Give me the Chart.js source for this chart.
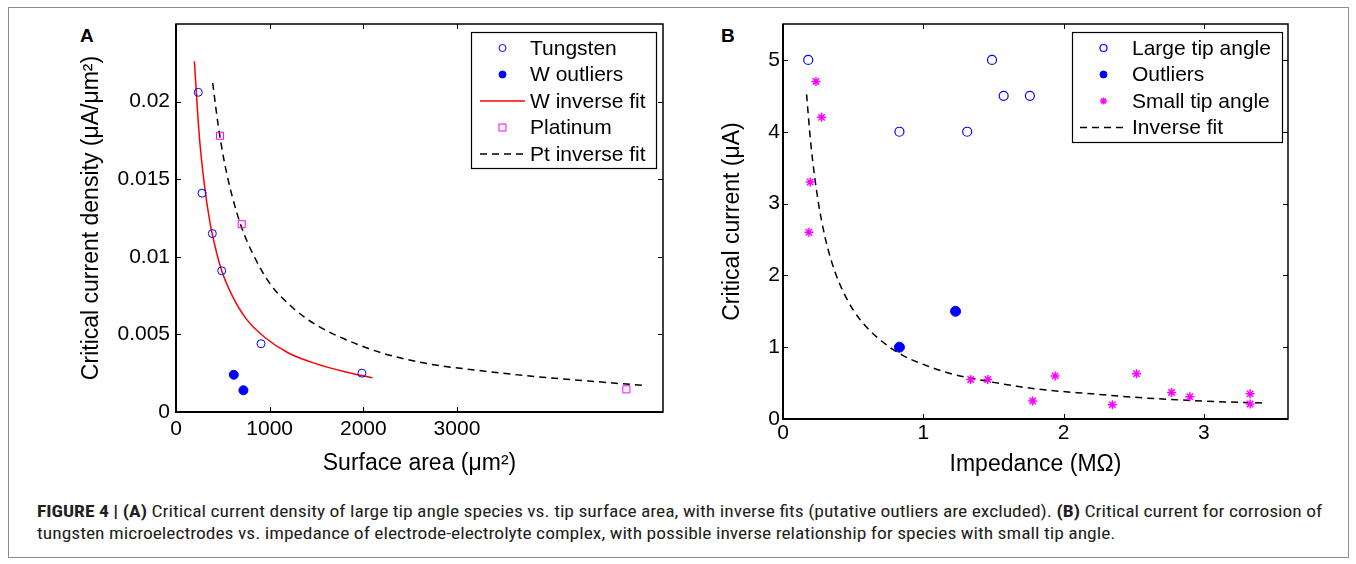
<!DOCTYPE html>
<html>
<head>
<title>Figure 4 - Critical current of tungsten microelectrodes</title>
<script src="https://cdn.jsdelivr.net/npm/chart.js"></script>
<style>
    body { margin: 0; background: #fff; font-family: "Liberation Sans", Arial, sans-serif; }
    #figure { position: relative; width: 1356px; height: 564px; overflow: hidden; }
    .frame { position: absolute; left: 8px; top: 7px; width: 1339px; height: 549px; border: 1px solid #8c8c8c; }
    .panel-letter { position: absolute; font-weight: bold; font-size: 19px; line-height: 20px; }
    canvas { position: absolute; top: 0; }
    .caption-line {
        position: absolute; left: 37px; white-space: nowrap; color: #231f20;
        font-family: "Liberation Sans Narrow", "Roboto Condensed", "Liberation Sans", sans-serif;
        font-size: 17px; line-height: 22px; transform-origin: 0 50%;
    }
</style>
</head>
<body>
<div id="figure">
    <div class="frame"></div>
    <div class="panel-letter" style="left:80px; top:26px;">A</div>
    <div class="panel-letter" style="left:721px; top:26px;">B</div>
    <canvas id="chartA" width="690" height="480" style="left:0;"></canvas>
    <canvas id="chartB" width="666" height="480" style="left:690px;"></canvas>
    <div class="caption-line" id="cap1" style="top:500px;"><b>FIGURE 4 | (A)</b> Critical current density of large tip angle species vs. tip surface area, with inverse fits (putative outliers are excluded). <b>(B)</b> Critical current for corrosion of</div>
    <div class="caption-line" id="cap2" style="top:522px;">tungsten microelectrodes vs. impedance of electrode-electrolyte complex, with possible inverse relationship for species with small tip angle.</div>
</div>

<script>
// ---- panel A : current density vs surface area ----
const tungstenArea = [238, 278, 388, 488, 908, 1985];
const tungstenDensity = [0.0206, 0.0141, 0.0115, 0.0091, 0.0044, 0.0025];
const wOutlierArea = [617, 720];
const wOutlierDensity = [0.0024, 0.0014];
const wFitArea = [196, 250, 300, 363, 420, 488, 600, 750, 950, 1200, 1500, 1800, 2098];
const wFitDensity = [0.0226, 0.0177, 0.0148, 0.0122, 0.0106, 0.0091, 0.0075, 0.0060, 0.0048, 0.0038, 0.0031, 0.0026, 0.0022];
const platinumArea = [470, 702, 4809];
const platinumDensity = [0.0178, 0.0121, 0.00146];
const ptFitArea = [392, 450, 520, 600, 700, 820, 1000, 1250, 1500, 1800, 2200, 2700, 3200, 3800, 4400, 5010];
const ptFitDensity = [0.0212, 0.0185, 0.0160, 0.0139, 0.0119, 0.0102, 0.0083, 0.0067, 0.0056, 0.0047, 0.0038, 0.0031, 0.0027, 0.0023, 0.0020, 0.0017];
const xTicksA = [0, 1000, 2000, 3000];
const yTicksA = [0, 0.005, 0.01, 0.015, 0.02];

// ---- panel B : critical current vs impedance ----
const largeTipImpedance = [0.18, 1.49, 1.573, 1.76, 0.83, 1.313];
const largeTipCurrent = [5, 5, 4.5, 4.5, 4, 4];
const outlierImpedance = [0.83, 1.23];
const outlierCurrent = [1.0, 1.5];
const smallTipImpedance = [0.235, 0.275, 0.194, 0.185, 1.338, 1.46, 1.78, 1.94, 2.348, 2.52, 2.77, 2.9, 3.33, 3.33];
const smallTipCurrent = [4.7, 4.2, 3.3, 2.6, 0.55, 0.55, 0.25, 0.6, 0.2, 0.63, 0.37, 0.31, 0.35, 0.21];
const fitImpedance = [0.168, 0.2, 0.25, 0.3, 0.35, 0.4, 0.5, 0.6, 0.7, 0.85, 1.0, 1.2, 1.5, 1.8, 2.2, 2.6, 3.0, 3.45];
const fitCurrent = [4.52, 3.8, 3.04, 2.53, 2.17, 1.9, 1.52, 1.27, 1.09, 0.89, 0.76, 0.63, 0.51, 0.42, 0.35, 0.29, 0.25, 0.22];
const xTicksB = [0, 1, 2, 3];
const yTicksB = [0, 1, 2, 3, 4, 5];

const FONT = '"Liberation Sans", Arial, sans-serif';
Chart.defaults.font.family = FONT;
Chart.defaults.font.size = 21;
Chart.defaults.color = '#000';

function pts(xs, ys) {
    return xs.map((x, i) => ({ x: x, y: ys[i] }));
}

function drawMarker(ctx, style, x, y, r, ds) {
    ctx.save();
    ctx.strokeStyle = ds.borderColor;
    ctx.lineWidth = ds.borderWidth || 1;
    ctx.fillStyle = ds.backgroundColor;
    ctx.beginPath();
    if (style === 'rect') {
        ctx.rect(x - r, y - r, 2 * r, 2 * r);
    } else if (style === 'star') {
        for (let k = 0; k < 4; k++) {
            const a = k * Math.PI / 4;
            ctx.moveTo(x - r * Math.cos(a), y - r * Math.sin(a));
            ctx.lineTo(x + r * Math.cos(a), y + r * Math.sin(a));
        }
    } else {
        ctx.arc(x, y, r, 0, Math.PI * 2);
        ctx.fill();
    }
    ctx.stroke();
    ctx.restore();
}

// MATLAB-like boxed axes with inward ticks, plus the boxed legend inside the plot
const matlabAxes = {
    id: 'matlabAxes',
    afterDatasetsDraw(chart) {
        const { ctx, chartArea: a, scales: { x, y } } = chart;
        const len = 5;
        ctx.save();
        ctx.strokeStyle = '#000';
        ctx.lineWidth = 1;
        ctx.beginPath();
        x.ticks.forEach(t => {
            const px = Math.round(x.getPixelForValue(t.value)) + 0.5;
            ctx.moveTo(px, a.bottom); ctx.lineTo(px, a.bottom - len);
            ctx.moveTo(px, a.top); ctx.lineTo(px, a.top + len);
        });
        y.ticks.forEach(t => {
            const py = Math.round(y.getPixelForValue(t.value)) + 0.5;
            ctx.moveTo(a.left, py); ctx.lineTo(a.left + len, py);
            ctx.moveTo(a.right, py); ctx.lineTo(a.right - len, py);
        });
        ctx.stroke();
        ctx.lineWidth = 1.5;
        ctx.strokeRect(a.left, a.top, a.right - a.left, a.bottom - a.top);
        ctx.lineWidth = 2;
        ctx.beginPath();
        ctx.moveTo(a.left, a.top); ctx.lineTo(a.left, a.bottom); ctx.lineTo(a.right, a.bottom);
        ctx.stroke();
        ctx.restore();
    },
    afterDraw(chart, args, opts) {
        const lg = opts.legend;
        if (!lg) return;
        const ctx = chart.ctx;
        ctx.save();
        ctx.fillStyle = '#fff';
        ctx.fillRect(lg.x, lg.y, lg.w, lg.h);
        ctx.strokeStyle = '#000';
        ctx.lineWidth = 1.2;
        ctx.strokeRect(lg.x + 0.5, lg.y + 0.5, lg.w, lg.h);
        ctx.font = '21px ' + FONT;
        ctx.textBaseline = 'middle';
        ctx.textAlign = 'left';
        chart.data.datasets.forEach((ds, i) => {
            const yy = lg.y + lg.first + i * lg.step;
            if (ds.showLine) {
                ctx.save();
                ctx.strokeStyle = ds.borderColor;
                ctx.lineWidth = ds.borderWidth;
                ctx.setLineDash(ds.borderDash || []);
                ctx.beginPath();
                ctx.moveTo(lg.lineX0, yy);
                ctx.lineTo(lg.lineX1, yy);
                ctx.stroke();
                ctx.restore();
            } else {
                drawMarker(ctx, ds.pointStyle, (lg.lineX0 + lg.lineX1) / 2, yy, lg.markR, ds);
            }
            ctx.fillStyle = '#000';
            ctx.fillText(ds.label, lg.textX, yy + 1);
        });
        ctx.restore();
    }
};

function noPad(s) {
    s.paddingTop = 0; s.paddingBottom = 0; s.paddingLeft = 0; s.paddingRight = 0;
}

function makeScales(cfg) {
    return {
        x: {
            type: 'linear', min: cfg.xMin, max: cfg.xMax,
            afterBuildTicks: s => { s.ticks = cfg.xTicks.map(v => ({ value: v })); },
            afterFit: s => { s.height = cfg.xHeight; noPad(s); },
            grid: { display: false, drawTicks: false },
            border: { display: false },
            ticks: { padding: cfg.xTickPad, autoSkip: false, maxRotation: 0, callback: v => String(v) },
            title: { display: true, text: cfg.xTitle, font: { size: 23 }, padding: { top: 0, bottom: cfg.xTitlePad } }
        },
        y: {
            type: 'linear', min: cfg.yMin, max: cfg.yMax,
            afterBuildTicks: s => { s.ticks = cfg.yTicks.map(v => ({ value: v })); },
            afterFit: s => { s.width = cfg.yWidth; noPad(s); },
            grid: { display: false, drawTicks: false },
            border: { display: false },
            ticks: { padding: cfg.yTickPad, autoSkip: false, callback: v => String(v) },
            title: { display: true, text: cfg.yTitle, font: { size: 23 }, padding: { top: cfg.yTitlePad, bottom: 0 } }
        }
    };
}

new Chart(document.getElementById('chartA'), {
    type: 'scatter',
    data: {
        datasets: [
            {
                label: 'Tungsten', data: pts(tungstenArea, tungstenDensity),
                pointStyle: 'circle', pointRadius: 4, borderWidth: 1, pointBorderWidth: 1,
                borderColor: '#0000ff', backgroundColor: 'rgba(0,0,0,0)'
            },
            {
                label: 'W outliers', data: pts(wOutlierArea, wOutlierDensity),
                pointStyle: 'circle', pointRadius: 4.5, borderWidth: 1, pointBorderWidth: 1,
                borderColor: '#0000ff', backgroundColor: '#0000ff'
            },
            {
                label: 'W inverse fit', data: pts(wFitArea, wFitDensity),
                showLine: true, pointRadius: 0, borderWidth: 1.5,
                borderColor: '#ff0000', backgroundColor: '#ff0000', cubicInterpolationMode: 'monotone'
            },
            {
                label: 'Platinum', data: pts(platinumArea, platinumDensity),
                pointStyle: 'rect', pointRadius: 5, borderWidth: 1, pointBorderWidth: 1,
                borderColor: '#ff00ff', backgroundColor: 'rgba(0,0,0,0)'
            },
            {
                label: 'Pt inverse fit', data: pts(ptFitArea, ptFitDensity),
                showLine: true, pointRadius: 0, borderWidth: 1.5, borderDash: [7, 5],
                borderColor: '#000000', backgroundColor: '#000000', cubicInterpolationMode: 'monotone'
            }
        ]
    },
    options: {
        responsive: false, animation: false, events: [],
        layout: { padding: { left: 70, top: 24, right: 27, bottom: 0 } },
        plugins: {
            legend: { display: false }, tooltip: { enabled: false },
            matlabAxes: {
                legend: { x: 471, y: 32, w: 185, h: 136, first: 16, step: 26.5, lineX0: 480, lineX1: 525, markR: 3.5, textX: 530 }
            }
        },
        scales: makeScales({
            xMin: 0, xMax: 5200, xTicks: xTicksA, xHeight: 68, xTickPad: 5, xTitlePad: 3,
            xTitle: 'Surface area (\u03bcm\u00b2)',
            yMin: 0, yMax: 0.025, yTicks: yTicksA, yWidth: 106, yTickPad: 6, yTitlePad: 8,
            yTitle: 'Critical current density (\u03bcA/\u03bcm\u00b2)'
        })
    },
    plugins: [matlabAxes]
});

new Chart(document.getElementById('chartB'), {
    type: 'scatter',
    data: {
        datasets: [
            {
                label: 'Large tip angle', data: pts(largeTipImpedance, largeTipCurrent),
                pointStyle: 'circle', pointRadius: 4.5, borderWidth: 1.2, pointBorderWidth: 1.2,
                borderColor: '#0000ff', backgroundColor: 'rgba(0,0,0,0)'
            },
            {
                label: 'Outliers', data: pts(outlierImpedance, outlierCurrent),
                pointStyle: 'circle', pointRadius: 5, borderWidth: 1, pointBorderWidth: 1,
                borderColor: '#0000ff', backgroundColor: '#0000ff'
            },
            {
                label: 'Small tip angle', data: pts(smallTipImpedance, smallTipCurrent),
                pointStyle: 'star', pointRadius: 4.5, borderWidth: 1.5, pointBorderWidth: 1.5,
                borderColor: '#ff00ff', backgroundColor: '#ff00ff'
            },
            {
                label: 'Inverse fit', data: pts(fitImpedance, fitCurrent),
                showLine: true, pointRadius: 0, borderWidth: 1.5, borderDash: [7, 5],
                borderColor: '#000000', backgroundColor: '#000000', cubicInterpolationMode: 'monotone'
            }
        ]
    },
    options: {
        responsive: false, animation: false, events: [],
        layout: { padding: { left: 20, top: 24, right: 68, bottom: 0 } },
        plugins: {
            legend: { display: false }, tooltip: { enabled: false },
            matlabAxes: {
                legend: { x: 382, y: 32, w: 210, h: 110, first: 16, step: 26.5, lineX0: 390, lineX1: 437, markR: 3.5, textX: 442 }
            }
        },
        scales: makeScales({
            xMin: 0, xMax: 3.6, xTicks: xTicksB, xHeight: 61, xTickPad: 2, xTitlePad: 2,
            xTitle: 'Impedance (M\u03a9)',
            yMin: 0, yMax: 5.5, yTicks: yTicksB, yWidth: 73, yTickPad: 3, yTitlePad: 9,
            yTitle: 'Critical current (\u03bcA)'
        })
    },
    plugins: [matlabAxes]
});

// squeeze the caption to the width of the printed lines
const cap1 = document.getElementById('cap1');
const cap2 = document.getElementById('cap2');
const k = 1285 / cap1.scrollWidth;
cap1.style.transform = 'scaleX(' + k + ')';
cap2.style.transform = 'scaleX(' + k + ')';
</script>
</body>
</html>
